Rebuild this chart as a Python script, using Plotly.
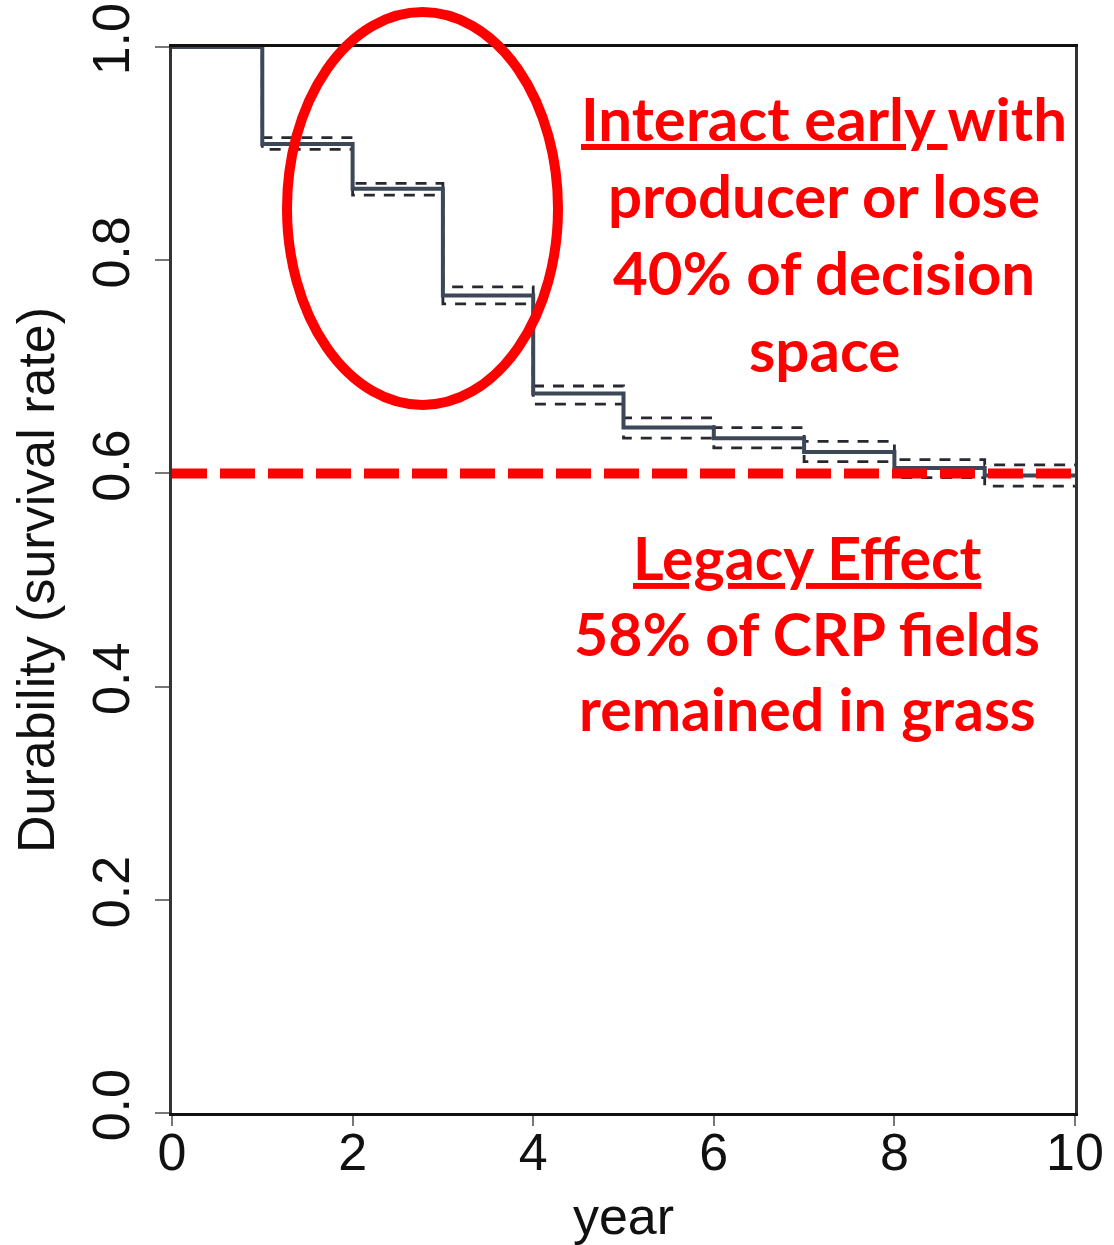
import plotly.graph_objects as go

# Kaplan-Meier style durability estimate by year, with confidence band
years = [0, 1, 2, 3, 4, 5, 6, 7, 8, 9, 10]
survival = [1.0, 0.909, 0.867, 0.767, 0.675, 0.643, 0.633, 0.620, 0.605, 0.598, 0.598]
upper_ci = [1.0, 0.915, 0.872, 0.775, 0.682, 0.652, 0.643, 0.630, 0.613, 0.608, 0.608]
lower_ci = [1.0, 0.904, 0.861, 0.759, 0.665, 0.633, 0.624, 0.611, 0.596, 0.588, 0.588]

legacy_level = 0.6
x_ticks = [0, 2, 4, 6, 8, 10]
y_ticks = [0.0, 0.2, 0.4, 0.6, 0.8, 1.0]

W, H = 1114, 1245
ML, MR, MT, MB = 172, 39, 47, 132
PW, PH = W - ML - MR, H - MT - MB


def px_x(px):
    return (px - ML) / PW


def px_y(py):
    return (H - MB - py) / PH


RED = "#ff0000"
fig = go.Figure()

# confidence limits
for band in (upper_ci, lower_ci):
    fig.add_trace(go.Scatter(
        x=years, y=band, mode="lines", line_shape="hv",
        line=dict(color="#262a30", width=2.8, dash="11px,9px"),
        hoverinfo="skip", showlegend=False, cliponaxis=False))

# survival estimate
fig.add_trace(go.Scatter(
    x=years, y=survival, mode="lines", line_shape="hv",
    line=dict(color="#3c4757", width=4),
    showlegend=False, cliponaxis=False))

# legacy threshold
fig.add_trace(go.Scatter(
    x=[years[0], years[-1]], y=[legacy_level, legacy_level], mode="lines",
    line=dict(color=RED, width=10, dash="35px,13px"),
    showlegend=False, hoverinfo="skip"))

# highlight around the early years
fig.add_shape(type="circle", xref="paper", yref="paper",
              x0=px_x(287), x1=px_x(558), y0=px_y(405), y1=px_y(12),
              line=dict(color=RED, width=10), layer="above")

lines_top = ["<u>Interact early </u>with", "producer or lose",
             "40% of decision", "space"]
ys_top = [118, 195, 272, 349]
for t, yy in zip(lines_top, ys_top):
    fig.add_annotation(text="<b>" + t + "</b>", xref="paper", yref="paper",
                       x=px_x(824), y=px_y(yy), xanchor="center",
                       yanchor="middle", showarrow=False,
                       font=dict(family="Lato", size=60, color=RED))

lines_bottom = ["<u>Legacy Effect</u>", "58% of CRP fields", "remained in grass"]
ys_bottom = [557, 633, 708]
for t, yy in zip(lines_bottom, ys_bottom):
    fig.add_annotation(text="<b>" + t + "</b>", xref="paper", yref="paper",
                       x=px_x(807), y=px_y(yy), xanchor="center",
                       yanchor="middle", showarrow=False,
                       font=dict(family="Lato", size=59, color=RED))

AX_FONT = dict(family="Liberation Sans, Arial", size=52, color="#111")
fig.update_layout(
    width=W, height=H,
    margin=dict(l=ML, r=MR, t=MT, b=MB, autoexpand=False),
    paper_bgcolor="white", plot_bgcolor="white",
    xaxis=dict(range=[0, 10], tickvals=x_ticks, ticktext=[str(v) for v in x_ticks],
               showgrid=False, zeroline=False, showline=True, linecolor="#111",
               linewidth=3, mirror=True, ticks="outside", ticklen=10,
               tickwidth=2, tickcolor="#777", tickfont=AX_FONT,
               ticklabelstandoff=-18,
               title=dict(text="year", font=AX_FONT, standoff=20)),
    yaxis=dict(range=[0, 1], tickvals=y_ticks, ticktext=[f"{v:.1f}" for v in y_ticks],
               showgrid=False, zeroline=False, showline=True, linecolor="#333",
               linewidth=3, mirror=True, ticks="outside", ticklen=14,
               tickwidth=2, tickcolor="#777", tickfont=AX_FONT, tickangle=-90,
               ticklabelstandoff=5,
               title=dict(text="Durability (survival rate)", font=AX_FONT,
                          standoff=12)),
)

fig.write_html("out.html")
